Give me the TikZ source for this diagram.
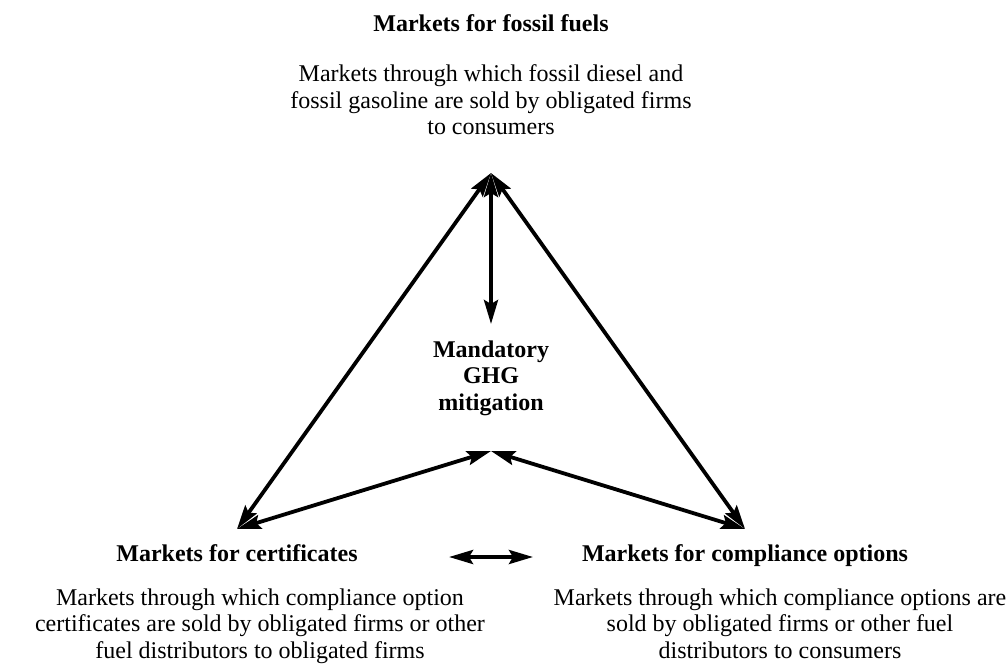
\documentclass[tikz,border=0pt]{standalone}
\usepackage{fontspec}
\setmainfont{Liberation Serif}
\usetikzlibrary{arrows.meta}
\begin{document}
\begin{tikzpicture}[x=1pt,y=-1pt,
  txt/.style={inner sep=0pt,anchor=base,align=center,font=\fontsize{24}{26.5}\selectfont},
  head/.style={txt,font=\fontsize{24}{26.5}\selectfont\bfseries},
  tip/.style={Stealth[length=24pt,width=14pt,inset=4pt]},
  link/.style={line width=3.8pt,{Stealth[length=24pt,width=14pt,inset=4pt]}-{Stealth[length=24pt,width=14pt,inset=4pt]}}]
\useasboundingbox (0,0) rectangle (1008,666);

% headings and descriptions (base anchor = baseline of the last line)
\node[head] (fossilT) at (491,32) {Markets for fossil fuels};
\node[txt] (fossilD) at (491,135) {Markets through which fossil diesel and\\fossil gasoline are sold by obligated firms\\to consumers};

\node[head] (mitig) at (491,410) {Mandatory\\GHG\\mitigation};

\node[head] (certT) at (237,561) {Markets for certificates};
\node[txt] (certD) at (260,658) {Markets through which compliance option\\certificates are sold by obligated firms or other\\fuel distributors to obligated firms};

\node[head] (compT) at (745,561) {Markets for compliance options};
\node[txt] (compD) at (780,658) {Markets through which compliance options are\\sold by obligated firms or other fuel\\distributors to consumers};

% arrow end points
\coordinate (apex) at (491,173);
\coordinate (mid) at (491,324);
\coordinate (low) at (491,451);
\coordinate (lt) at (237,529);
\coordinate (rt) at (745,529);
\coordinate (hl) at (449,557);
\coordinate (hr) at (533,557);

% connectors
\draw[link] (lt) -- (apex);
\draw[link] (apex) -- (rt);
\draw[link] (apex) -- (mid);
\draw[link] (lt) -- (low);
\draw[link] (low) -- (rt);
\draw[link] (hl) -- (hr);
\end{tikzpicture}
\end{document}
